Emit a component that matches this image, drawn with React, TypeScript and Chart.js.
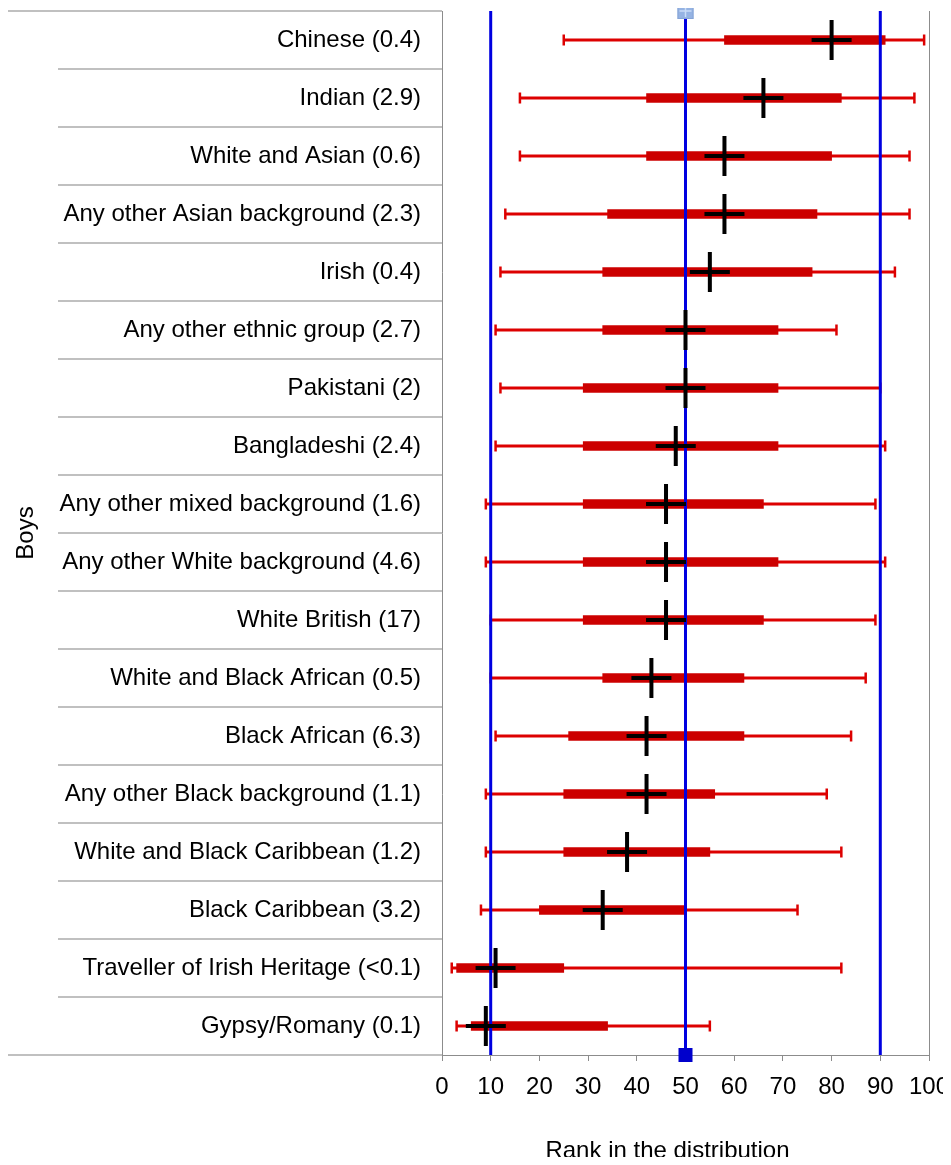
import React, { useEffect, useRef } from "react";
import { Chart, registerables } from "chart.js";

Chart.register(...registerables);

const categories = [
  "Chinese (0.4)",
  "Indian (2.9)",
  "White and Asian (0.6)",
  "Any other Asian background (2.3)",
  "Irish (0.4)",
  "Any other ethnic group (2.7)",
  "Pakistani (2)",
  "Bangladeshi (2.4)",
  "Any other mixed background (1.6)",
  "Any other White background (4.6)",
  "White British (17)",
  "White and Black African (0.5)",
  "Black African (6.3)",
  "Any other Black background (1.1)",
  "White and Black Caribbean (1.2)",
  "Black Caribbean (3.2)",
  "Traveller of Irish Heritage (<0.1)",
  "Gypsy/Romany (0.1)",
];

const whiskerLow = [25, 16, 16, 13, 12, 11, 12, 11, 9, 9, 10, 10, 11, 9, 9, 8, 2, 3];
const boxLow = [58, 42, 42, 34, 33, 33, 29, 29, 29, 29, 29, 33, 26, 25, 25, 20, 3, 6];
const boxHigh = [91, 82, 80, 77, 76, 69, 69, 69, 66, 69, 66, 62, 62, 56, 55, 50, 25, 34];
const whiskerHigh = [99, 97, 96, 96, 93, 81, 90, 91, 89, 91, 89, 87, 84, 79, 82, 73, 82, 55];
const median = [80, 66, 58, 58, 55, 50, 50, 48, 46, 46, 46, 43, 42, 42, 38, 33, 11, 9];

const referenceLines = [10, 50, 90];
const markerValue = 50;
const xMin = 0;
const xMax = 100;
const xStep = 10;
const xTitle = "Rank in the distribution";
const yTitle = "Boys";

const FONT = "'Liberation Sans', Arial, sans-serif";

export default function App() {
  const canvasRef = useRef<HTMLCanvasElement>(null);

  useEffect(() => {
    const canvas = canvasRef.current;
    if (!canvas) return;

    const overlay = {
      id: "overlay",
      afterDatasetDraw(chart: any, args: any) {
        if (args.index !== 1) return;
        const { ctx, chartArea } = chart;
        const xs = chart.scales.x;
        ctx.save();
        ctx.strokeStyle = "#0000e0";
        ctx.lineWidth = 3;
        referenceLines.forEach((v) => {
          const px = xs.getPixelForValue(v);
          ctx.beginPath();
          ctx.moveTo(px, chartArea.top);
          ctx.lineTo(px, chartArea.bottom);
          ctx.stroke();
        });
        ctx.restore();
      },
      afterDraw(chart: any) {
        const { ctx, chartArea } = chart;
        const xs = chart.scales.x;
        const ys = chart.scales.y;
        ctx.save();
        // row separators in the label area
        const half = (ys.getPixelForValue(1) - ys.getPixelForValue(0)) / 2;
        ctx.strokeStyle = "#ababab";
        ctx.lineWidth = 1.5;
        for (let k = 0; k <= categories.length; k++) {
          const y =
            k < categories.length
              ? ys.getPixelForValue(k) - half
              : ys.getPixelForValue(categories.length - 1) + half;
          const x0 = k === 0 || k === categories.length ? 0 : 50;
          ctx.beginPath();
          ctx.moveTo(x0, y);
          ctx.lineTo(chartArea.left, y);
          ctx.stroke();
        }
        // right border
        ctx.strokeStyle = "#8c8c8c";
        ctx.lineWidth = 1;
        ctx.beginPath();
        ctx.moveTo(chartArea.right + 0.5, chartArea.top);
        ctx.lineTo(chartArea.right + 0.5, chartArea.bottom);
        ctx.stroke();

        // markers at the ends of the 50 line
        const mx = xs.getPixelForValue(markerValue);
        ctx.fillStyle = "#0000cc";
        ctx.fillRect(mx - 7, chartArea.bottom - 7, 14, 14);
        ctx.fillStyle = "#95b3e3";
        ctx.strokeStyle = "#86a4d6";
        ctx.lineWidth = 1;
        ctx.fillRect(mx - 8, chartArea.top - 8, 16, 16);
        ctx.strokeRect(mx - 7.5, chartArea.top - 7.5, 15, 15);
        ctx.strokeStyle = "#c9dcf7";
        ctx.lineWidth = 1.5;
        ctx.beginPath();
        ctx.moveTo(mx - 6, chartArea.top);
        ctx.lineTo(mx + 6, chartArea.top);
        ctx.moveTo(mx, chartArea.top - 6);
        ctx.lineTo(mx, chartArea.top + 6);
        ctx.stroke();

        // x axis title
        ctx.fillStyle = "#000";
        ctx.font = `24px ${FONT}`;
        ctx.textAlign = "center";
        ctx.textBaseline = "middle";
        ctx.fillText(xTitle, (chartArea.left + chartArea.right) / 2 - 18, chart.height - 6);
        ctx.restore();
      },
    };

    const chart = new Chart(canvas, {
      type: "bar",
      data: {
        labels: categories,
        datasets: [
          {
            type: "scatter",
            label: "Median",
            data: categories.map((c, i) => ({ x: median[i], y: c })),
            pointStyle: "cross",
            radius: 20,
            borderWidth: 4,
            borderColor: "#000000",
            backgroundColor: "#000000",
            clip: false,
          } as any,
          {
            type: "bar",
            label: "Interquartile",
            data: categories.map((_, i) => [boxLow[i], boxHigh[i]]),
            backgroundColor: "#cc0000",
            barThickness: 9,
            grouped: false,
          } as any,
          {
            type: "bar",
            label: "Range",
            data: categories.map((_, i) => [whiskerLow[i], whiskerHigh[i]]),
            backgroundColor: "#dd0000",
            barThickness: 2.5,
            grouped: false,
          } as any,
          {
            type: "scatter",
            label: "Caps",
            data: categories.flatMap((c, i) => [
              { x: whiskerLow[i], y: c },
              { x: whiskerHigh[i], y: c },
            ]),
            pointStyle: "line",
            rotation: 90,
            radius: 5.5,
            borderWidth: 2.5,
            borderColor: "#dd0000",
            backgroundColor: "#dd0000",
            clip: false,
          } as any,
        ],
      },
      options: {
        indexAxis: "y",
        responsive: false,
        animation: false,
        devicePixelRatio: 1,
        events: [],
        layout: { autoPadding: false, padding: { top: 3, right: 22, bottom: 0, left: 0 } },
        plugins: {
          legend: { display: false },
          tooltip: { enabled: false },
        },
        scales: {
          x: {
            type: "linear",
            min: xMin,
            max: xMax,
            ticks: {
              stepSize: xStep,
              autoSkip: false,
              maxRotation: 0,
              padding: 12,
              color: "#000",
              font: { size: 24, family: FONT },
            },
            grid: {
              drawOnChartArea: false,
              drawTicks: true,
              tickLength: 6,
              tickColor: "#8c8c8c",
            },
            border: { display: true, color: "#8c8c8c", width: 1 },
            afterFit: (scale: any) => {
              scale.height = 102;
              scale.paddingLeft = 0;
              scale.paddingRight = 0;
              scale.paddingTop = 0;
              scale.paddingBottom = 0;
            },
          },
          y: {
            type: "category",
            offset: true,
            ticks: {
              autoSkip: false,
              padding: 0,
              color: "#000",
              font: { size: 24, family: FONT },
            },
            grid: {
              drawOnChartArea: false,
              drawTicks: true,
              tickLength: 21,
              tickColor: "rgba(0,0,0,0)",
            },
            border: { display: true, color: "#8c8c8c", width: 1 },
            title: {
              display: true,
              text: yTitle,
              color: "#000",
              font: { size: 24, family: FONT },
              padding: { top: 4, bottom: 4 },
            },
            afterFit: (scale: any) => {
              scale.width = 434;
              scale.paddingTop = 0;
              scale.paddingBottom = 0;
            },
          },
        },
      } as any,
      plugins: [overlay],
    });

    return () => chart.destroy();
  }, []);

  return (
    <div style={{ width: 943, height: 1149 }}>
      <canvas
        ref={canvasRef}
        width={943}
        height={1149}
        style={{ display: "block", width: 943, height: 1149 }}
      />
    </div>
  );
}
